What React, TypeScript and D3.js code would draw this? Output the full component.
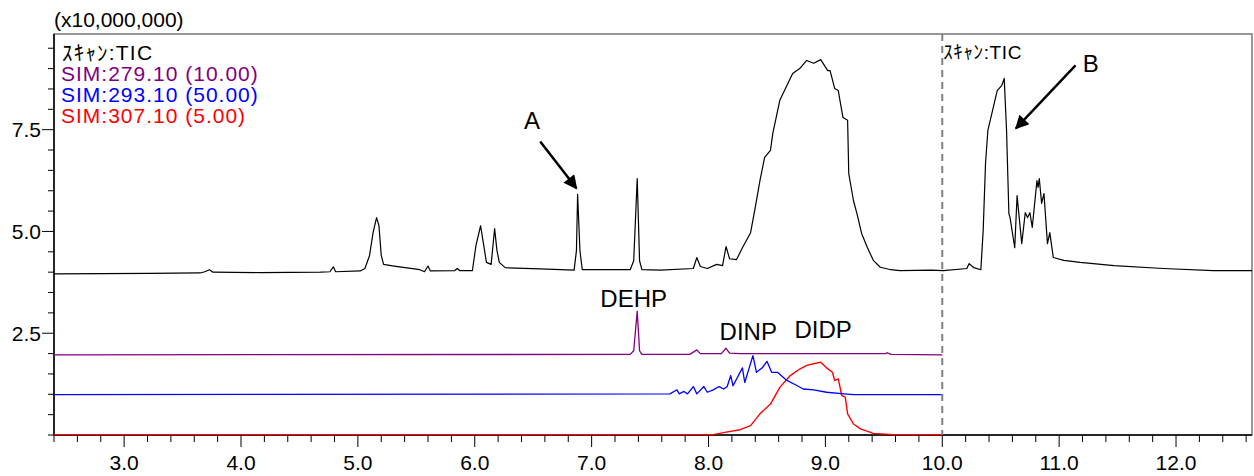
import React, { useEffect, useRef } from "react";
import * as d3 from "d3";

// retention time (min) / intensity (x10,000,000)
const ticTime = [2.40, 3.22, 3.65, 3.69, 3.73, 3.76, 4.16, 4.68, 4.76, 4.79, 4.81, 5.02, 5.06, 5.10, 5.13, 5.16, 5.18, 5.20, 5.22, 5.31, 5.53, 5.57, 5.60, 5.62, 5.83, 5.85, 5.87, 5.98, 6.01, 6.05, 6.07, 6.10, 6.14, 6.17, 6.19, 6.21, 6.26, 6.56, 6.85, 6.87, 6.88, 6.90, 6.92, 7.07, 7.33, 7.36, 7.39, 7.41, 7.43, 7.59, 7.87, 7.90, 7.93, 7.99, 8.07, 8.12, 8.15, 8.18, 8.24, 8.29, 8.36, 8.40, 8.44, 8.48, 8.53, 8.55, 8.61, 8.72, 8.78, 8.84, 8.90, 8.96, 9.02, 9.04, 9.08, 9.11, 9.15, 9.19, 9.20, 9.24, 9.27, 9.31, 9.36, 9.41, 9.47, 9.56, 9.64, 9.90, 10.01, 10.21, 10.23, 10.27, 10.33, 10.35, 10.37, 10.39, 10.43, 10.47, 10.51, 10.53, 10.55, 10.57, 10.58, 10.62, 10.64, 10.68, 10.71, 10.73, 10.75, 10.77, 10.81, 10.82, 10.83, 10.85, 10.87, 10.90, 10.92, 10.95, 11.04, 11.18, 11.47, 11.89, 12.32, 12.65];
const ticValue = [3.96, 3.97, 3.98, 4.01, 4.06, 4.00, 3.99, 4.00, 4.01, 4.13, 4.01, 4.03, 4.09, 4.41, 4.97, 5.34, 5.15, 4.41, 4.19, 4.15, 4.06, 4.01, 4.15, 4.03, 4.04, 4.09, 4.04, 4.04, 4.65, 5.14, 4.78, 4.24, 4.19, 5.07, 4.53, 4.24, 4.11, 4.08, 4.05, 4.53, 5.91, 4.53, 4.06, 4.06, 4.06, 4.28, 6.30, 4.28, 4.06, 4.05, 4.09, 4.36, 4.14, 4.09, 4.19, 4.16, 4.63, 4.33, 4.31, 4.60, 4.97, 5.59, 6.25, 6.82, 6.99, 7.41, 8.22, 8.88, 9.00, 9.20, 9.13, 9.22, 8.95, 8.95, 8.51, 8.46, 7.80, 7.73, 6.42, 5.76, 5.44, 4.95, 4.60, 4.29, 4.12, 4.06, 4.04, 4.05, 4.04, 4.09, 4.21, 4.11, 4.06, 5.02, 6.67, 7.48, 7.97, 8.46, 8.59, 8.76, 7.48, 5.44, 5.34, 4.60, 5.88, 4.70, 5.46, 5.34, 5.46, 5.10, 6.25, 6.08, 6.30, 5.69, 5.93, 4.70, 4.97, 4.36, 4.29, 4.24, 4.16, 4.09, 4.04, 4.04];

const sim279Time = [2.40, 7.33, 7.36, 7.39, 7.41, 7.43, 7.84, 7.90, 7.93, 8.11, 8.15, 8.18, 8.27, 9.51, 9.53, 9.56, 10.00];
const sim279Value = [1.97, 1.98, 2.07, 3.04, 2.07, 1.98, 1.98, 2.09, 2.00, 2.00, 2.13, 2.01, 2.00, 2.00, 2.02, 1.98, 1.97];

const sim293Time = [2.40, 7.67, 7.73, 7.75, 7.79, 7.82, 7.87, 7.90, 7.96, 7.99, 8.04, 8.09, 8.13, 8.16, 8.19, 8.21, 8.29, 8.31, 8.38, 8.41, 8.46, 8.50, 8.54, 8.59, 8.67, 8.76, 8.81, 8.90, 9.01, 9.16, 9.24, 10.00];
const sim293Value = [0.99, 1.01, 1.11, 1.01, 1.07, 1.01, 1.19, 1.01, 1.19, 1.05, 1.11, 1.19, 1.13, 1.19, 1.46, 1.21, 1.65, 1.29, 1.95, 1.54, 1.65, 1.81, 1.54, 1.54, 1.34, 1.21, 1.13, 1.11, 1.05, 1.01, 0.99, 0.99];

const sim307Time = [2.40, 8.04, 8.15, 8.27, 8.36, 8.44, 8.53, 8.61, 8.70, 8.78, 8.84, 8.90, 8.96, 9.01, 9.06, 9.08, 9.11, 9.14, 9.17, 9.19, 9.24, 9.30, 9.41, 9.58, 10.00];
const sim307Value = [0.01, 0.01, 0.07, 0.13, 0.23, 0.52, 0.76, 1.17, 1.46, 1.62, 1.71, 1.75, 1.79, 1.65, 1.54, 1.34, 1.38, 0.97, 0.93, 0.52, 0.27, 0.15, 0.04, 0.01, 0.01];

// legend (the scan label uses half-width katakana, as the original does)
const scanLabelText = "ｽｷｬﾝ:TIC";
const legendLabels = ["SIM:279.10 (10.00)", "SIM:293.10 (50.00)", "SIM:307.10 (5.00)"];
const legendColors = ["#800080", "#0000ff", "#ff0000"];

const yTickLabels = [2.5, 5.0, 7.5];
const xTickLabels = [3, 4, 5, 6, 7, 8, 9, 10, 11, 12];

// peak names: [time, intensity]
const peakNames = ["DEHP", "DINP", "DIDP"];
const peakPos = [[7.36, 3.35], [8.34, 2.54], [8.98, 2.59]];

// arrows: label, label pos, tail, head
const arrowNames = ["A", "B"];
const arrowLabelPos = [[6.49, 7.72], [11.27, 9.13]];
const arrowTail = [[6.56, 7.21], [11.14, 9.08]];
const arrowHead = [[6.87, 6.06], [10.63, 7.53]];

const splitTime = 10.0;

const W = 1254, H = 476;
const FONT = "'Liberation Sans', Arial, sans-serif";
const FONT_JP = "'Liberation Sans', 'Noto Sans CJK JP', sans-serif";

export default function App() {
  const ref = useRef(null);

  useEffect(() => {
    const svg = d3.select(ref.current);
    svg.selectAll("*").remove();

    const margin = { top: 34, right: 2, bottom: 41, left: 54 };
    const x = d3.scaleLinear().domain([2.4, 12.65]).range([margin.left, W - margin.right]);
    const y = d3.scaleLinear().domain([0, 9.85]).range([H - margin.bottom, margin.top]);

    // frame
    svg.append("rect")
      .attr("x", margin.left).attr("y", margin.top)
      .attr("width", W - margin.right - margin.left)
      .attr("height", H - margin.bottom - margin.top)
      .attr("fill", "none").attr("stroke", "#777").attr("stroke-width", 1.5);

    // x axis
    const xTicks = d3.range(2.4, 12.61, 0.2);
    const gx = svg.append("g").attr("transform", `translate(0,${H - margin.bottom})`);
    gx.selectAll("line").data(xTicks).enter().append("line")
      .attr("x1", (d) => x(d)).attr("x2", (d) => x(d))
      .attr("y1", 0)
      .attr("y2", (d) => (Math.abs(d - Math.round(d)) < 0.01 ? 12 : 7))
      .attr("stroke", "#000").attr("stroke-width", 1);
    gx.selectAll("text").data(xTickLabels).enter().append("text")
      .attr("x", (d) => x(d)).attr("y", 35)
      .attr("text-anchor", "middle")
      .style("font-family", FONT).style("font-size", "21px")
      .text((d) => d.toFixed(1));

    // y axis
    const yTicks = d3.range(0, 9.51, 0.5);
    const gy = svg.append("g").attr("transform", `translate(${margin.left},0)`);
    gy.selectAll("line").data(yTicks).enter().append("line")
      .attr("x1", (d) => (d % 2.5 === 0 && d > 0 ? -12 : -6)).attr("x2", 0)
      .attr("y1", (d) => y(d)).attr("y2", (d) => y(d))
      .attr("stroke", "#000").attr("stroke-width", 1);
    gy.selectAll("text").data(yTickLabels).enter().append("text")
      .attr("x", -13).attr("y", (d) => y(d)).attr("dy", "0.35em")
      .attr("text-anchor", "end")
      .style("font-family", FONT).style("font-size", "21px")
      .text((d) => d.toFixed(1));

    svg.append("line")
      .attr("x1", margin.left).attr("x2", margin.left)
      .attr("y1", margin.top).attr("y2", H - margin.bottom)
      .attr("stroke", "#000").attr("stroke-width", 1.5);
    svg.append("line")
      .attr("x1", margin.left).attr("x2", W - margin.right)
      .attr("y1", H - margin.bottom).attr("y2", H - margin.bottom)
      .attr("stroke", "#000").attr("stroke-width", 1.5);

    svg.append("text")
      .attr("x", margin.left).attr("y", 27)
      .style("font-family", FONT).style("font-size", "21px")
      .text("(x10,000,000)");

    // traces
    const line = d3.line().x((d) => x(d[0])).y((d) => y(d[1]));
    const traces = [
      [sim307Time, sim307Value, legendColors[2], 1.4],
      [sim293Time, sim293Value, legendColors[1], 1.3],
      [sim279Time, sim279Value, legendColors[0], 1.3],
      [ticTime, ticValue, "#000", 1.2],
    ];
    traces.forEach(([t, v, c, w]) => {
      svg.append("path")
        .datum(t.map((d, i) => [d, v[i]]))
        .attr("d", line)
        .attr("fill", "none")
        .attr("stroke", c)
        .attr("stroke-width", w)
        .attr("stroke-linejoin", "round");
    });

    // split marker
    svg.append("line")
      .attr("x1", x(splitTime)).attr("x2", x(splitTime))
      .attr("y1", margin.top).attr("y2", H - margin.bottom)
      .attr("stroke", "#808080").attr("stroke-width", 2)
      .attr("stroke-dasharray", "7,5");

    // scan labels
    svg.append("text")
      .attr("x", margin.left + 8).attr("y", 60)
      .style("font-family", FONT_JP).style("font-size", "21px")
      .style("letter-spacing", "1.2px")
      .text(scanLabelText);
    svg.append("text")
      .attr("x", x(splitTime) + 1).attr("y", 59)
      .style("font-family", FONT_JP).style("font-size", "19px")
      .style("letter-spacing", "0.6px")
      .text(scanLabelText);

    // legend
    svg.selectAll(".legend").data(legendLabels).enter().append("text")
      .attr("class", "legend")
      .attr("x", margin.left + 7)
      .attr("y", (d, i) => 81 + i * 21)
      .attr("fill", (d, i) => legendColors[i])
      .style("font-family", FONT).style("font-size", "21px")
      .style("letter-spacing", "1px")
      .text((d) => d);

    // peak labels
    svg.selectAll(".peak").data(peakNames).enter().append("text")
      .attr("class", "peak")
      .attr("x", (d, i) => x(peakPos[i][0]))
      .attr("y", (d, i) => y(peakPos[i][1]))
      .attr("dy", "0.35em")
      .attr("text-anchor", "middle")
      .style("font-family", FONT).style("font-size", "24px")
      .text((d) => d);

    // arrows
    svg.append("defs").append("marker")
      .attr("id", "head")
      .attr("viewBox", "0 0 10 10")
      .attr("refX", 9).attr("refY", 5)
      .attr("markerWidth", 6).attr("markerHeight", 5.5)
      .attr("markerUnits", "strokeWidth")
      .attr("orient", "auto")
      .append("path").attr("d", "M0,0 L10,5 L0,10 Z").attr("fill", "#000");

    arrowNames.forEach((name, i) => {
      svg.append("line")
        .attr("x1", x(arrowTail[i][0])).attr("y1", y(arrowTail[i][1]))
        .attr("x2", x(arrowHead[i][0])).attr("y2", y(arrowHead[i][1]))
        .attr("stroke", "#000").attr("stroke-width", 2.5)
        .attr("marker-end", "url(#head)");
      svg.append("text")
        .attr("x", x(arrowLabelPos[i][0])).attr("y", y(arrowLabelPos[i][1]))
        .attr("dy", "0.35em").attr("text-anchor", "middle")
        .style("font-family", FONT).style("font-size", "24px")
        .text(name);
    });
  }, []);

  return (
    <svg ref={ref} width={W} height={H}
      style={{ position: "absolute", left: 0, top: 0, background: "#fff" }} />
  );
}
